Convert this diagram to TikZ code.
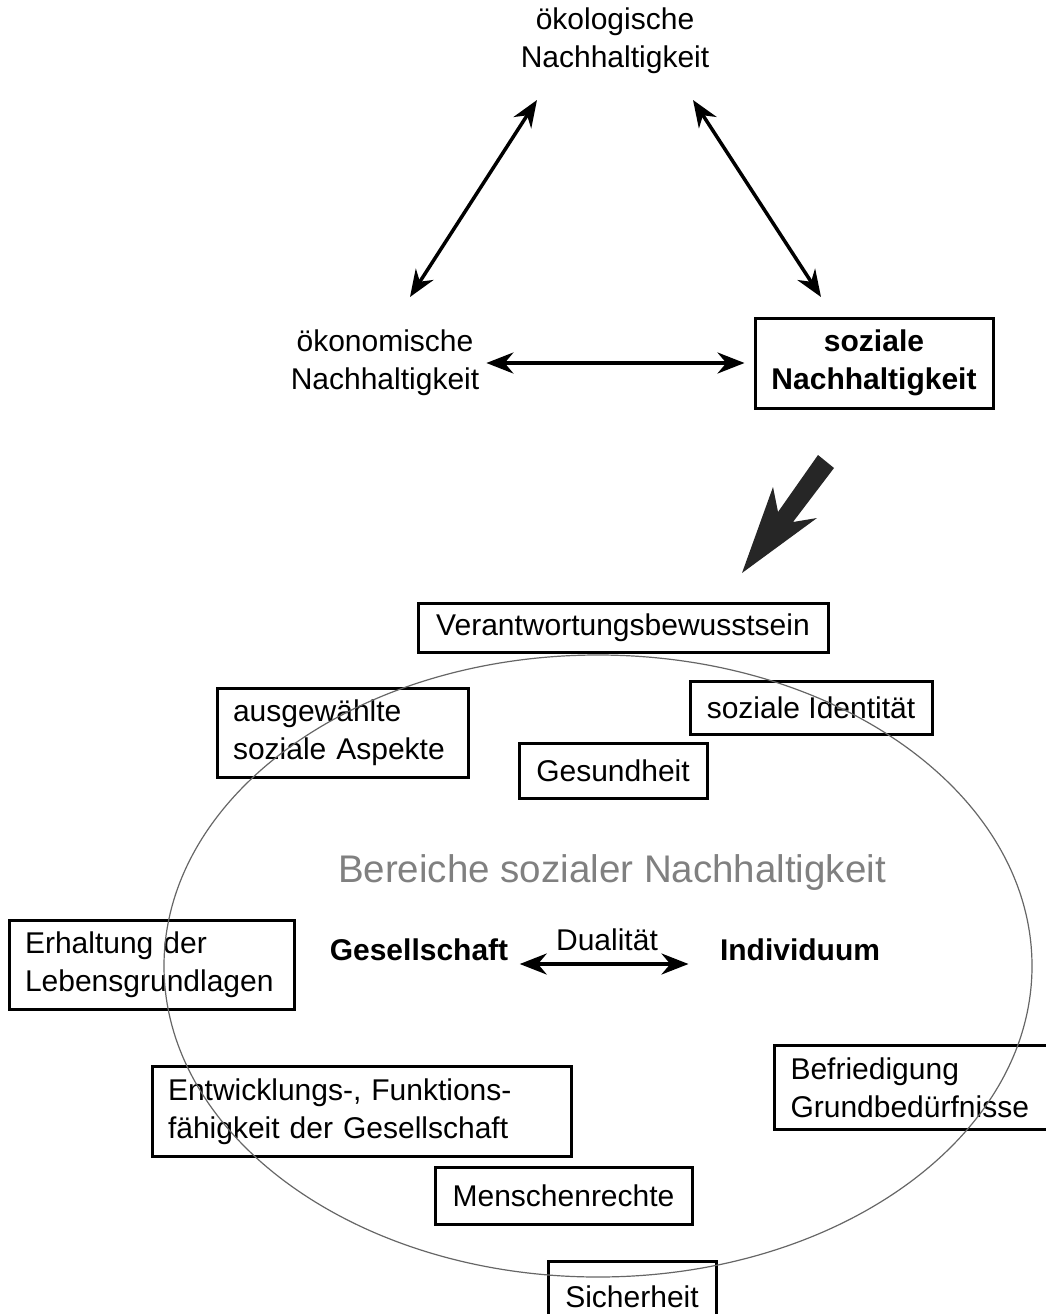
\documentclass[tikz,border=0pt]{standalone}
\usepackage{fontspec}
\setmainfont{Liberation Sans}
\usetikzlibrary{arrows.meta,calc}
\newcommand{\bodyfont}{\fontsize{30}{38}\selectfont}

\begin{document}
\begin{tikzpicture}[x=1pt,y=-1pt,
  every node/.style={font=\bodyfont},
  lbl/.style={align=center,inner sep=2pt},
  box/.style={draw,line width=3pt,inner xsep=16pt,inner ysep=12pt},
  dbl/.style={line width=3.5pt,{Stealth[length=27pt,width=21pt]}-{Stealth[length=27pt,width=21pt]}},
  ring/.style={black!60,line width=1.2pt},
  bigarrow/.style={fill=black!85}]
\useasboundingbox (0,0) rectangle (1046,1314);
\clip (0,0) rectangle (1046,1314);
% triangle of the three pillars
\node[lbl] (oeko) at (615,41) {ökologische\\Nachhaltigkeit};
\node[lbl] (oekon) at (385,363) {ökonomische\\Nachhaltigkeit};
\node[box,align=center,font=\bodyfont\bfseries,inner ysep=0pt,minimum width=238,minimum height=90] (sozial) at (874,363) {soziale\\Nachhaltigkeit};
\coordinate (l1) at (410,297);
\coordinate (l2) at (537,100);
\coordinate (r1) at (693,100);
\coordinate (r2) at (821,297);
\draw[dbl] (l1) -- (l2);
\draw[dbl] (r1) -- (r2);
\draw[dbl,shorten <=5pt,shorten >=9pt] (oekon.east) -- (sozial.west);
% big arrow
\fill[bigarrow] (742,573) -- (773,487) -- (778,512) -- (818,455) -- (834,468) -- (793,522) -- (817,518) -- cycle;
% areas of social sustainability
\node[box,inner ysep=0pt,minimum width=410,minimum height=49] (verant) at (623,628) {Verantwortungsbewusstsein};
\node[box,align=left,text width=219] (ausgew) at (342.5,733) {ausgewählte\\soziale Aspekte};
\node[box,inner xsep=14pt,inner ysep=0pt,minimum width=242,minimum height=53] (ident) at (811,708) {soziale Identität};
\node[box,inner ysep=0pt,minimum width=188,minimum height=55] (gesund) at (613,771) {Gesundheit};
\node[text=black!50,font=\fontsize{38.5}{46}\selectfont] (bereich) at (612,873) {Bereiche sozialer Nachhaltigkeit};
\node[font=\bodyfont\bfseries] (gesell) at (419,950) {Gesellschaft};
\node[font=\bodyfont\bfseries] (indiv) at (800,950) {Individuum};
\node (dual) at (607,940) {Dualität};
\draw[dbl,shorten <=8pt,shorten >=28pt] ([yshift=-14pt]gesell.east) -- ([yshift=-14pt]indiv.west);
\node[box,align=left,text width=253] (erhalt) at (151.5,965) {Erhaltung der\\Lebensgrundlagen};
\node[box,align=left,text width=387] (entw) at (361.5,1111.5) {Entwicklungs-, Funktions-\\fähigkeit der Gesellschaft};
\node[box,align=left,text width=300,anchor=west] (befr) at (773,1087.5) {Befriedigung\\Grundbedürfnisse};
\node[box,inner ysep=0pt,minimum width=257,minimum height=57] (menschen) at (563.5,1195.5) {Menschenrechte};
\node[box,inner ysep=0pt,minimum width=168,minimum height=70,anchor=north] (sicher) at (632,1260) {Sicherheit};
\draw[ring] (598,966) ellipse [x radius=434,y radius=311];
\end{tikzpicture}
\end{document}
